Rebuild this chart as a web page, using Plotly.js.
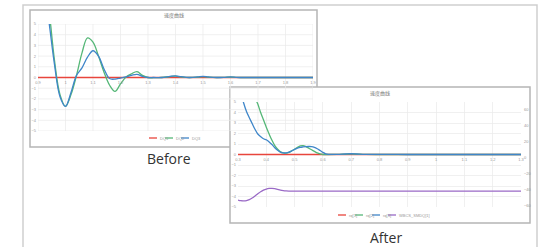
<!DOCTYPE html>
<html>
<head>
<meta charset="utf-8">
<script src="https://cdn.plot.ly/plotly-3.0.1.min.js"></script>
<style>html,body{margin:0;padding:0;background:#fff;}#chart{width:549px;height:247px;}</style>
</head>
<body>
<div id="chart"></div>
<script>
// ---------- data ----------
const chartTitle = "速度曲线";
const beforeLabel = "Before";
const afterLabel = "After";

const beforeNames = ["DQ1", "DQ2", "DQ3"];
const afterNames = ["rq[1]", "rq[2]", "rq[3]", "WBCS_SMDQ[1]"];

const beforeX = [0.9, 0.92, 0.94, 0.96, 0.98, 1.0, 1.02, 1.04, 1.06, 1.08, 1.1, 1.12, 1.14, 1.16, 1.18, 1.2, 1.22, 1.24, 1.26, 1.28, 1.3, 1.32, 1.35, 1.38, 1.4, 1.42, 1.45, 1.48, 1.5, 1.52, 1.55, 1.58, 1.6, 1.62, 1.65, 1.7, 1.8, 1.9];
const beforeRed = [0, 0, 0, 0, 0, 0, 0, 0, 0, 0, 0, 0, 0, 0, 0, 0, 0, 0, 0, 0, 0, 0, 0, 0, 0, 0, 0, 0, 0, 0, 0, 0, 0, 0, 0, 0, 0, 0];
const beforeGreen = [14, 10.5, 6.4, 1.6, -1.6, -2.7, -1.6, 0.2, 2.3, 3.7, 3.3, 2.0, 0.5, -0.7, -1.3, -0.6, 0.05, 0.35, 0.55, 0.2, 0.0, -0.02, 0, 0.08, 0.12, 0.05, 0, 0.03, 0.08, 0.03, 0, 0.02, 0.04, 0.02, 0, 0, 0, 0];
const beforeBlue = [12, 9, 5.2, 1.2, -1.8, -2.7, -1.4, 0.2, 0.9, 1.9, 2.5, 2.0, 0.8, -0.1, -0.15, -0.05, 0.05, 0.2, 0.3, 0.1, 0, 0, 0, 0.1, 0.15, 0.08, 0, 0.05, 0.1, 0.05, 0, 0.02, 0.05, 0.02, 0, 0, 0, 0];

const afterX = [0.3, 0.31, 0.32, 0.33, 0.34, 0.35, 0.36, 0.37, 0.38, 0.39, 0.4, 0.41, 0.42, 0.43, 0.44, 0.45, 0.46, 0.47, 0.48, 0.49, 0.5, 0.51, 0.52, 0.53, 0.54, 0.55, 0.56, 0.57, 0.58, 0.59, 0.6, 0.61, 0.62, 0.65, 0.68, 0.7, 0.72, 0.75, 0.8, 0.9, 1.0, 1.1, 1.2, 1.3];
const afterRed = [0, 0, 0, 0, 0, 0, 0, 0, 0, 0, 0, 0, 0, 0, 0, 0, 0, 0, 0, 0, 0, 0, 0, 0, 0, 0, 0, 0, 0, 0, 0, 0, 0, 0, 0, 0, 0, 0, 0, 0, 0, 0, 0, 0];
const afterGreen = [11, 10, 9, 8, 7, 6.2, 5.4, 4.8, 4.0, 3.3, 2.6, 1.95, 1.35, 0.85, 0.5, 0.25, 0.15, 0.14, 0.2, 0.35, 0.5, 0.68, 0.82, 0.85, 0.75, 0.6, 0.45, 0.3, 0.15, 0.05, 0, 0, 0, 0.01, 0.04, 0.06, 0.04, 0.01, 0, 0, 0, 0, 0, 0];
const afterBlue = [7, 6, 4.9, 4.1, 3.5, 2.95, 2.4, 1.95, 1.7, 1.5, 1.4, 1.2, 0.95, 0.65, 0.4, 0.22, 0.15, 0.15, 0.22, 0.35, 0.48, 0.6, 0.68, 0.72, 0.75, 0.76, 0.75, 0.68, 0.55, 0.38, 0.2, 0.07, 0.02, 0.01, 0.05, 0.07, 0.05, 0.02, 0.01, 0, 0, 0, 0, 0];
const afterPurple = [-52.6, -53.4, -53.6, -53.2, -52, -50, -47.5, -44.8, -42.2, -40.2, -38.9, -38.2, -38, -38.4, -39.4, -40.4, -41, -41.3, -41.4, -41.4, -41.4, -41.4, -41.4, -41.4, -41.4, -41.4, -41.4, -41.4, -41.4, -41.4, -41.4, -41.4, -41.4, -41.4, -41.4, -41.4, -41.4, -41.4, -41.4, -41.4, -41.4, -41.4, -41.4, -41.4];

const beforeXTicks = [0.9, 1.0, 1.1, 1.2, 1.3, 1.4, 1.5, 1.6, 1.7, 1.8, 1.9];
const beforeXTickText = ["0.9", "1", "1.1", "1.2", "1.3", "1.4", "1.5", "1.6", "1.7", "1.8", "1.9"];
const afterXTicks = [0.3, 0.4, 0.5, 0.6, 0.7, 0.8, 0.9, 1.0, 1.1, 1.2, 1.3];
const afterXTickText = ["0.3", "0.4", "0.5", "0.6", "0.7", "0.8", "0.9", "1", "1.1", "1.2", "1.3"];
const yTicks = [-5, -4, -3, -2, -1, 0, 1, 2, 3, 4, 5];
const rightTicks = [-60, -40, -20, 0, 20, 40, 60];

// ---------- styling / layout ----------
const W = 549, H = 247;
const px = v => v / W;
const py = v => 1 - v / H;
const cRed = '#e8453c', cGreen = '#55b777', cBlue = '#3f86c9', cPurple = '#9a6ac6';
const lw = 1.3;
const tickFont = {family: 'Liberation Sans, Arial, sans-serif', size: 4, color: '#999'};
const gridCol = '#e9e9e9';

const traces = [
  {x: beforeX, y: beforeRed, name: beforeNames[0], xaxis: 'x', yaxis: 'y', mode: 'lines', line: {color: cRed, width: lw}},
  {x: beforeX, y: beforeGreen, name: beforeNames[1], xaxis: 'x', yaxis: 'y', mode: 'lines', line: {color: cGreen, width: lw, shape: 'spline', smoothing: 1}},
  {x: beforeX, y: beforeBlue, name: beforeNames[2], xaxis: 'x', yaxis: 'y', mode: 'lines', line: {color: cBlue, width: lw, shape: 'spline', smoothing: 1}},
  {x: afterX, y: afterRed, name: afterNames[0], xaxis: 'x2', yaxis: 'y3', mode: 'lines', line: {color: cRed, width: lw}},
  {x: afterX, y: afterGreen, name: afterNames[1], xaxis: 'x2', yaxis: 'y3', mode: 'lines', line: {color: cGreen, width: lw, shape: 'spline', smoothing: 1}},
  {x: afterX, y: afterBlue, name: afterNames[2], xaxis: 'x2', yaxis: 'y3', mode: 'lines', line: {color: cBlue, width: lw, shape: 'spline', smoothing: 1}},
  {x: afterX, y: afterPurple, name: afterNames[3], xaxis: 'x2', yaxis: 'y4', mode: 'lines', line: {color: cPurple, width: lw, shape: 'spline', smoothing: 1}}
];

const shapes = [];
// outer frame
shapes.push({type: 'rect', xref: 'paper', yref: 'paper', x0: px(23), x1: px(537), y0: py(260), y1: py(5), line: {color: '#cfcfcf', width: 1.5}, fillcolor: 'rgba(0,0,0,0)', layer: 'below'});
// before chart box
shapes.push({type: 'rect', xref: 'paper', yref: 'paper', x0: px(30), x1: px(317), y0: py(147), y1: py(10), line: {color: '#b5b5b5', width: 1.5}, fillcolor: '#ffffff', layer: 'below'});
// before gridlines (in data coordinates, so the after box can cover them)
beforeXTicks.forEach(t => shapes.push({type: 'line', xref: 'x', yref: 'y', x0: t, x1: t, y0: -5, y1: 5, line: {color: gridCol, width: 0.7}, layer: 'below'}));
yTicks.forEach(t => shapes.push({type: 'line', xref: 'x', yref: 'y', x0: beforeXTicks[0], x1: beforeXTicks[beforeXTicks.length - 1], y0: t, y1: t, line: {color: gridCol, width: 0.7}, layer: 'below'}));
// after chart box
shapes.push({type: 'rect', xref: 'paper', yref: 'paper', x0: px(230), x1: px(530), y0: py(223), y1: py(87), line: {color: '#b5b5b5', width: 1.5}, fillcolor: '#ffffff', layer: 'below'});

const annotations = [];
annotations.push({xref: 'paper', yref: 'paper', x: px(174), y: py(15), text: chartTitle, showarrow: false, font: {family: 'Noto Sans CJK SC', size: 5, color: '#777'}, xanchor: 'center', yanchor: 'middle'});
annotations.push({xref: 'paper', yref: 'paper', x: px(380), y: py(93), text: chartTitle, showarrow: false, font: {family: 'Noto Sans CJK SC', size: 5, color: '#777'}, xanchor: 'center', yanchor: 'middle'});
annotations.push({xref: 'paper', yref: 'paper', x: px(169), y: py(158), text: beforeLabel, showarrow: false, font: {family: 'Open Sans, Noto Sans, sans-serif', size: 14, color: '#333'}, xanchor: 'center', yanchor: 'middle'});
annotations.push({xref: 'paper', yref: 'paper', x: px(386), y: py(237), text: afterLabel, showarrow: false, font: {family: 'Open Sans, Noto Sans, sans-serif', size: 14, color: '#333'}, xanchor: 'center', yanchor: 'middle'});

// custom compact legends
function addLegend(names, colors, startX, yPix, gaps) {
  let x = startX;
  names.forEach((n, i) => {
    shapes.push({type: 'line', xref: 'paper', yref: 'paper', x0: px(x), x1: px(x + 8), y0: py(yPix), y1: py(yPix), line: {color: colors[i], width: 1.3}});
    annotations.push({xref: 'paper', yref: 'paper', x: px(x + 8.5), y: py(yPix), text: n, showarrow: false, font: {family: 'Liberation Sans, Arial, sans-serif', size: 4, color: '#999'}, xanchor: 'left', yanchor: 'middle'});
    x += gaps[i];
  });
}
addLegend(beforeNames, [cRed, cGreen, cBlue], 149, 138, [16, 16, 16]);
addLegend(afterNames, [cRed, cGreen, cBlue, cPurple], 338, 215, [17, 17, 16, 30]);

const layout = {
  width: W, height: H,
  margin: {l: 0, r: 0, t: 0, b: 0, pad: 0},
  paper_bgcolor: '#ffffff',
  plot_bgcolor: 'rgba(0,0,0,0)',
  showlegend: false,
  xaxis: {domain: [px(38), px(313)], range: [0.9, 1.9], anchor: 'free', position: py(77), tickvals: beforeXTicks, ticktext: beforeXTickText, ticklabelstandoff: 2, showgrid: false, zeroline: false, showline: false, ticks: '', tickfont: tickFont, fixedrange: true},
  yaxis: {domain: [py(131), py(24)], range: [-5, 5], anchor: 'x', tickvals: yTicks, ticklabelstandoff: 1, showgrid: false, zeroline: false, showline: false, ticks: '', tickfont: tickFont, fixedrange: true},
  xaxis2: {domain: [px(238), px(521)], range: [0.3, 1.3], anchor: 'free', position: py(154), tickvals: afterXTicks, ticktext: afterXTickText, ticklabelstandoff: 2, showgrid: true, gridcolor: gridCol, gridwidth: 0.7, zeroline: false, showline: false, ticks: '', tickfont: tickFont, fixedrange: true},
  yaxis3: {domain: [py(207), py(102)], range: [-5, 5], anchor: 'x2', tickvals: yTicks, ticklabelstandoff: 1, showgrid: true, gridcolor: gridCol, gridwidth: 0.7, zeroline: false, showline: false, ticks: '', tickfont: tickFont, fixedrange: true},
  yaxis4: {domain: [py(207), py(102)], range: [-61.2, 69], anchor: 'x2', overlaying: 'y3', side: 'right', tickvals: rightTicks, ticklabelstandoff: 2, showgrid: false, zeroline: false, showline: false, ticks: '', tickfont: tickFont, fixedrange: true},
  shapes: shapes,
  annotations: annotations
};

Plotly.newPlot('chart', traces, layout, {staticPlot: true, displayModeBar: false});
</script>
</body>
</html>
